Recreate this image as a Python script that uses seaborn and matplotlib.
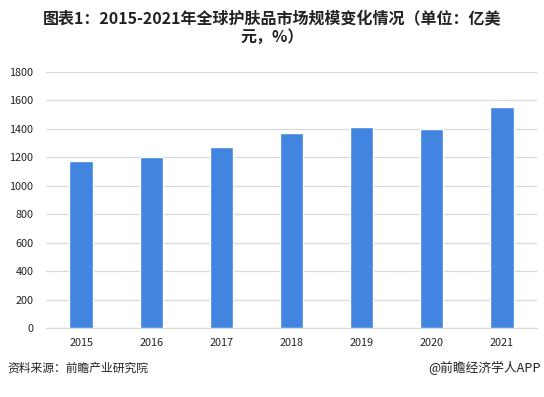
import matplotlib
matplotlib.use("Agg")
import matplotlib.pyplot as plt
import seaborn as sns
import pandas as pd

years = ["2015", "2016", "2017", "2018", "2019", "2020", "2021"]
values = [1172, 1200, 1270, 1369, 1411, 1397, 1553]
yticks = [0, 200, 400, 600, 800, 1000, 1200, 1400, 1600, 1800]

sns.set_theme(style="white")
plt.rcParams['font.family'] = ['Noto Sans CJK SC', 'DejaVu Sans']

df = pd.DataFrame({"year": years, "value": values})

fig = plt.figure(figsize=(5.44, 3.97), dpi=100)
ax = fig.add_axes([46/544, 1-328/397, (537-46)/544, (328-72)/397])
sns.barplot(data=df, x="year", y="value", color="#4285E1", saturation=1, width=0.33, ax=ax, zorder=3)
ax.set_ylim(0, 1800)
ax.set_yticks(yticks)
ax.set_yticklabels([str(t) for t in yticks], fontsize=7.8, color="#222222")
ax.tick_params(axis="x", labelsize=7.8, colors="#222222", length=0, pad=7)
ax.tick_params(axis="y", length=0, pad=9)
ax.set_xlabel("")
ax.set_ylabel("")
ax.grid(axis="y", color="#d9d9d9", linewidth=0.9, zorder=0)
for s in ["top", "right", "left"]:
    ax.spines[s].set_visible(False)
ax.spines["bottom"].set_color("#d9d9d9")
ax.spines["bottom"].set_linewidth(0.9)

fig.text(272/544, 1-19/397, "图表1：2015-2021年全球护肤品市场规模变化情况（单位：亿美", ha="center", va="center",
         fontsize=11.5, fontweight="bold", color="#222222")
fig.text(272/544, 1-37/397, "元，%）", ha="center", va="center",
         fontsize=11.5, fontweight="bold", color="#222222")
fig.text(7/544, 1-368/397, "资料来源：前瞻产业研究院", ha="left", va="center", fontsize=8.5, color="#222222")
fig.text(541/544, 1-368/397, "@前瞻经济学人APP", ha="right", va="center", fontsize=9.2, color="#222222")

fig.savefig("out.png", dpi=100)
